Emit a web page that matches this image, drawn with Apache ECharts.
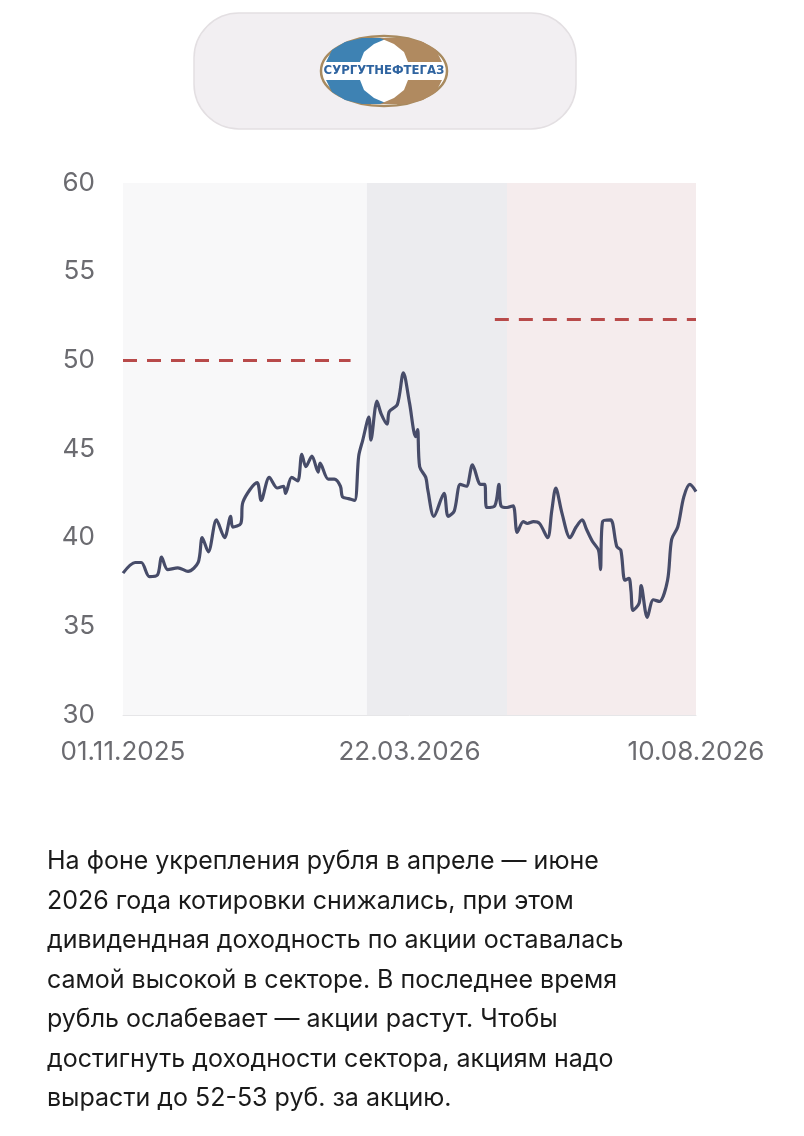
<!DOCTYPE html>
<html><head><meta charset="utf-8">
<script src="https://cdn.jsdelivr.net/npm/echarts@6/dist/echarts.min.js"></script>
<style>html,body{margin:0;padding:0;background:#fff}#c{width:804px;height:1136px}</style>
</head><body><div id="c"></div>
<script>
// days since 01.11.2025 and close price, rub
var days = [0,6,9,13,17,19,22,27,32,37,39,42,46,50,53,54,58,59,66,68,72,76,79,80,83,86,88,90,93,96,97,101,104,107,108,111,114,116,118,121,122,125,127,130,131,135,138,141,144,145,146,149,150,153,158,160,163,166,169,172,176,178,179,183,185,186,189,192,194,197,199,202,205,209,211,213,216,220,223,226,228,231,234,235,236,240,241,243,245,247,249,250,251,254,255,258,261,264,268,270,273,276,279,282]
var price = [38.0,38.6,38.6,37.8,37.9,38.9,38.2,38.3,38.1,38.6,40.0,39.2,41.0,40.0,41.2,40.6,40.8,42.0,43.1,42.1,43.4,42.8,42.9,42.5,43.4,43.2,44.7,44.0,44.6,43.7,44.2,43.3,43.3,42.9,42.3,42.2,42.1,44.6,45.5,46.8,45.5,47.7,47.0,46.4,47.1,47.5,49.3,47.6,45.7,46.1,44.0,43.4,42.7,41.2,42.5,41.2,41.5,43.0,42.9,44.1,43.0,43.0,41.7,41.8,43.0,41.8,41.7,41.8,40.3,40.9,40.8,40.9,40.8,40.0,41.5,42.8,41.4,40.0,40.6,41.0,40.5,39.8,39.3,38.2,40.9,41.0,40.8,39.5,39.3,37.6,37.7,37.0,35.9,36.3,37.3,35.5,36.5,36.4,37.6,39.9,40.6,42.3,43.0,42.6]
var xTicks = ['01.11.2025','22.03.2026','10.08.2026']
var yTicks = [30,35,40,45,50,55,60]
var conflictFrom = 120, conflictTo = 189, lastDay = 282
var sectorLeft = 50, sectorLeftTo = 112
var sectorRight = 52.3, sectorRightFrom = 183

var chart = echarts.init(document.getElementById('c'))
var line = days.map(function (d, i) { return [d, price[i]] })
var font = 'Inter, "Noto Sans", sans-serif'
var txt = function (x, y, s) {
  return { type: 'text', x: x, y: y, style: { text: s, font: '17px ' + font, fill: '#1d1d1f', align: 'center', verticalAlign: 'top', lineHeight: 24 } }
}
var pill = function (cx, cy, w, label, fill) {
  return [
    { type: 'rect', shape: { x: cx - w / 2, y: cy - 23, width: w, height: 46, r: 23 }, style: { fill: fill, stroke: '#dcd7da', lineWidth: 1 } },
    { type: 'text', x: cx, y: cy, style: { text: label, font: 'bold 22px "DejaVu Sans"', fill: '#454a66', align: 'center', verticalAlign: 'middle' } }
  ]
}
// logo crescent, mirrored for the four quarters
var crescent = [[326,62],[332,50],[345,42],[362,38],[388,38],[374,44],[364,52],[360,62]]
var quarter = function (fx, fy, color) {
  return { type: 'polygon', shape: { points: crescent.map(function (p) { return [fx ? 768 - p[0] : p[0], fy ? 142 - p[1] : p[1]] }) }, style: { fill: color } }
}
var paragraph = [
  'На фоне укрепления рубля в апреле — июне',
  '2026 года котировки снижались, при этом',
  'дивидендная доходность по акции оставалась',
  'самой высокой в секторе. В последнее время',
  'рубль ослабевает — акции растут. Чтобы',
  'достигнуть доходности сектора, акциям надо',
  'вырасти до 52-53 руб. за акцию.'
].join('\n')

chart.setOption({
  backgroundColor: '#fff',
  animation: false,
  grid: { left: 123, right: 108, top: 183, bottom: 421 },
  xAxis: {
    type: 'value', min: 0, max: lastDay, interval: 141,
    axisLine: { show: true, lineStyle: { color: '#e6e6e8' } }, axisTick: { show: false }, splitLine: { show: false },
    axisLabel: { margin: 24, fontSize: 26, color: '#6b6b70', fontFamily: font, formatter: function (v) { return xTicks[Math.round(v / 141)] } }
  },
  yAxis: {
    type: 'value', min: yTicks[0], max: yTicks[yTicks.length - 1], interval: 5,
    axisLine: { show: false }, axisTick: { show: false }, splitLine: { show: false },
    axisLabel: { margin: 28, fontSize: 26, color: '#6b6b70', fontFamily: font }
  },
  series: [{
    type: 'line', data: line, showSymbol: false, smooth: 0.3,
    lineStyle: { color: '#474c69', width: 3.2 },
    markArea: {
      silent: true,
      data: [
        [{ xAxis: 0, itemStyle: { color: '#f8f8f9' } }, { xAxis: conflictFrom }],
        [{ xAxis: conflictFrom, itemStyle: { color: '#ececef' } }, { xAxis: conflictTo }],
        [{ xAxis: conflictTo, itemStyle: { color: '#f5eced' } }, { xAxis: lastDay }]
      ]
    },
    markLine: {
      silent: true, symbol: 'none', label: { show: false },
      lineStyle: { color: '#b84a4a', type: [14, 10], width: 3 },
      data: [
        [{ coord: [0, sectorLeft] }, { coord: [sectorLeftTo, sectorLeft] }],
        [{ coord: [sectorRightFrom, sectorRight] }, { coord: [lastDay, sectorRight] }]
      ]
    }
  }],
  graphic: [
    { type: 'rect', shape: { x: 194, y: 13, width: 382, height: 116, r: 45 }, style: { fill: '#f2eff2', stroke: '#e3dfe2', lineWidth: 1.5 } },
    { type: 'ellipse', shape: { cx: 384, cy: 71, rx: 63, ry: 35 }, style: { fill: '#fff', stroke: '#a88a5f', lineWidth: 2.5 } },
    quarter(false, false, '#3e82b3'),
    quarter(false, true, '#3e82b3'),
    quarter(true, false, '#b08a60'),
    quarter(true, true, '#b08a60'),
    { type: 'text', x: 384, y: 71, style: { text: 'СУРГУТНЕФТЕГАЗ', font: 'bold 13px "DejaVu Sans Condensed", "DejaVu Sans"', fill: '#2f64a0', align: 'center', verticalAlign: 'middle' } }
  ].concat(
    pill(241, 272, 120, '8-10%', '#ebe8ea'),
    [txt(245, 303, 'Див. доходность\nсектора.')],
    pill(274, 592, 150, '11-13%', '#ececee'),
    [txt(272, 628, 'Див. доходность\n(в ноябре 2025-\nфеврале 2026)')],
    pill(606, 214, 120, '12-13%', '#ebe2e4'),
    [txt(607, 245, 'Див. доходность\nсектора.')],
    pill(607, 416, 112, '16%', '#ebe2e4'),
    [txt(608, 446, 'Див. доходность\n(спот)')],
    [txt(436, 543, 'Острая фаза\nконфликта\n=\nнеопреде-\nлённость,\nнефть выше\n100 $/барр.')],
    [{ type: 'text', x: 47, y: 842, style: { text: paragraph, font: '25px ' + font, fill: '#1a1a1a', lineHeight: 39.5 } }]
  )
})
</script></body></html>
